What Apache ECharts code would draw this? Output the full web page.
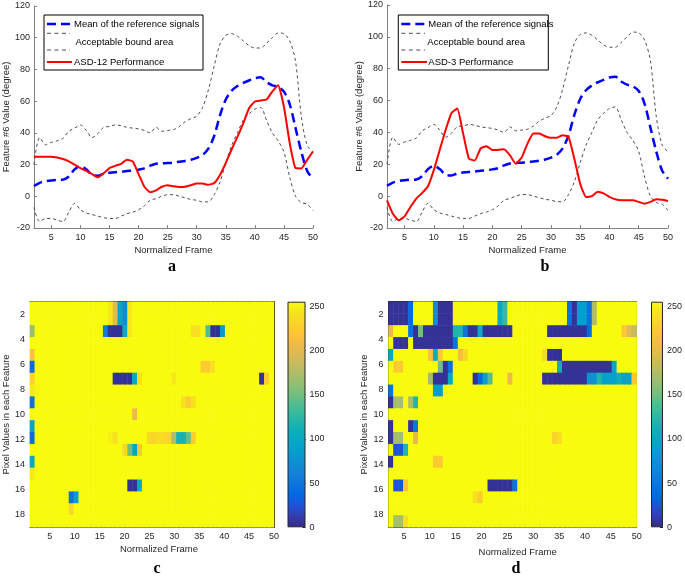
<!DOCTYPE html>
<html><head><meta charset="utf-8">
<script src="https://cdn.jsdelivr.net/npm/echarts@6/dist/echarts.min.js"></script>
<style>html,body{margin:0;padding:0;background:#fff;}#chart{width:685px;height:580px;}</style>
</head><body><div id="chart"></div>
<script>
// ---------- data: line charts (a, b) ----------
const frames = [2,3,4,5,6,7,8,9,10,11,12,13,14,15,16,17,18,19,20,21,22,23,24,25,26,27,28,29,30,31,32,33,34,35,36,37,38,39,40,41,42,43,44,45,46,47,48,49,50];
const meanRef = [6.5,8.5,9.5,10,10.3,10.5,12.5,17,19,17,13.5,13,14.2,14.8,15.2,15.5,15.9,16.3,16.8,17.6,19.3,20.5,20.8,21,21.3,21.8,22.3,23,24.2,26,30,38,51,61,66.5,69.5,71.5,73,74.5,75,72,70,69,66,58,43,28,16,11];
const upperBound = [20,37,32.5,34,35,36.5,41,43,45,41.5,37,39.5,43.5,44,45,44.5,43.5,43,42.5,41.5,40,43.5,41,41.5,42,44,47,49,50.5,56,67,82,96,101.5,102.5,101,98,95,93.5,93.5,96.5,100,103,102.5,98,85,50,32,28];
const lowerBound = [-7,-16,-14,-14,-15,-16,-10,-4.5,-8.5,-10.5,-11.5,-12.5,-13.5,-14,-14,-12.5,-11,-10,-8.5,-6,-2.5,-1.5,0,1,1,0,-1,-2,-2.5,-3.5,-3.5,1,9,21,32,40,48,52,55,56,48,40,35,28,12,0,-4,-5,-9];
const asd12 = [25,25,25,25,24.5,23.5,22,20,17.8,16,14,12,14.5,17.8,19.2,20.5,23,22,14,6,2.5,3.7,6,7,6.3,5.8,6,7,8,8,7.3,8.3,13.5,21,29.5,37.5,46,55.5,59.8,60.4,61,66,70,56.5,33.5,17.8,17.6,23,28.3];
const asd3 = [-2.6,-11,-15.2,-12.7,-6.8,-1.5,2,6.2,16.3,29,41.4,52,55,39.3,23.5,22.4,30,31.4,28.9,29,29.5,25.7,20.4,24.2,33,39.3,39.3,37.6,36.6,36.6,38.3,37.2,23.5,7.8,-0.5,0,2.7,1.7,-0.5,-2,-2.6,-2.6,-2.6,-3.6,-4.7,-3.6,-2,-2.3,-3];
const frameTicks = [5,10,15,20,25,30,35,40,45,50];
const rowTicks = [2,4,6,8,10,12,14,16,18];

// ---------- data: heatmaps (c, d) ----------
// background level of every cell not listed below (the yellow)
const backgroundLevel = 255;
const nCols = 50, nRows = 19;
// [column, row, value]
const cellsC = [
 [17,1,245],[18,1,200],[19,1,95],[20,1,70],[21,1,245],
 [17,2,245],[18,2,200],[19,2,95],[20,2,70],[21,2,245],
 [1,3,165],[16,3,55],[17,3,5],[18,3,5],[19,3,5],[20,3,100],[21,3,245],[34,3,240],[35,3,240],[37,3,140],[38,3,5],[39,3,5],[40,3,80],
 [1,5,215],
 [1,6,40],[36,6,225],[37,6,225],[38,6,240],
 [1,7,230],[18,7,5],[19,7,5],[20,7,5],[21,7,5],[22,7,100],[23,7,240],[30,7,245],[48,7,5],[49,7,225],
 [1,8,245],[2,8,250],
 [1,9,45],[32,9,240],[33,9,225],[34,9,240],
 [22,10,205],
 [1,11,95],
 [1,12,40],[17,12,250],[18,12,240],[25,12,235],[26,12,232],[27,12,238],[28,12,235],[29,12,232],[30,12,175],[31,12,115],[32,12,115],[33,12,145],[34,12,225],
 [20,13,235],[21,13,150],[22,13,95],[23,13,220],
 [1,14,100],
 [1,15,245],
 [21,16,5],[22,16,5],[23,16,100],
 [9,17,45],[10,17,85],
 [9,18,235]
];
const cellsD = [
 [1,1,5],[2,1,5],[3,1,5],[4,1,5],[5,1,40],[10,1,70],[11,1,5],[12,1,5],[13,1,5],[23,1,100],[24,1,130],[37,1,45],[38,1,5],[39,1,85],[40,1,85],[41,1,45],[42,1,175],
 [1,2,5],[2,2,5],[3,2,5],[4,2,5],[5,2,40],[10,2,70],[11,2,5],[12,2,5],[13,2,5],[23,2,100],[24,2,130],[37,2,45],[38,2,5],[39,2,85],[40,2,85],[41,2,45],[42,2,175],
 [1,3,205],[5,3,45],[6,3,5],[7,3,150],[8,3,5],[9,3,5],[10,3,5],[11,3,5],[12,3,5],[13,3,5],[14,3,120],[15,3,120],[16,3,50],[17,3,5],[18,3,5],[19,3,100],[20,3,5],[21,3,5],[22,3,5],[23,3,5],[24,3,5],[25,3,5],
 [33,3,5],[34,3,5],[35,3,5],[36,3,5],[37,3,5],[38,3,5],[39,3,5],[40,3,5],[41,3,40],[48,3,220],[49,3,200],[50,3,185],
 [2,4,5],[3,4,5],[4,4,5],[6,4,5],[7,4,5],[8,4,5],[9,4,5],[10,4,5],[11,4,5],[12,4,5],[13,4,5],[14,4,45],
 [1,5,100],[9,5,215],[10,5,110],[11,5,225],[15,5,210],[16,5,235],[32,5,235],[33,5,5],[34,5,5],[35,5,5],
 [2,6,225],[3,6,225],[11,6,150],[12,6,5],[13,6,45],[35,6,110],[36,6,5],[37,6,5],[38,6,5],[39,6,5],[40,6,5],[41,6,5],[42,6,5],[43,6,5],[44,6,5],[45,6,5],[46,6,90],
 [9,7,170],[10,7,5],[11,7,5],[12,7,5],[13,7,100],[18,7,5],[19,7,40],[20,7,90],[21,7,140],[25,7,205],
 [32,7,5],[33,7,5],[34,7,5],[35,7,5],[36,7,5],[37,7,5],[38,7,5],[39,7,5],[40,7,5],[41,7,75],[42,7,75],[43,7,120],[44,7,90],[45,7,90],[46,7,90],[47,7,110],[48,7,90],[49,7,90],[50,7,220],
 [1,8,45],[10,8,85],[11,8,85],
 [1,9,5],[2,9,170],[3,9,170],[5,9,170],[6,9,120],
 [1,11,5],[5,11,5],[6,11,50],
 [1,12,5],[2,12,170],[3,12,170],[6,12,200],[34,12,230],[35,12,240],
 [2,13,25],[3,13,25],[4,13,120],
 [1,14,5],[10,14,225],[11,14,225],
 [2,16,25],[3,16,25],[4,16,220],[21,16,5],[22,16,5],[23,16,5],[24,16,5],[25,16,5],[26,16,45],
 [18,17,240],[19,17,225],
 [2,19,170],[3,19,170],[4,19,240]
];

// ---------- build ----------
const FONT = '"Liberation Sans", Arial, sans-serif';
const TXT = '#262626';
const parula = ['#352A87','#353DAD','#2053D4','#0268E1','#0D75DC','#1481D6','#108ED2','#079CCF','#06A7C6','#0FAEB9','#25B5A9','#42BB98','#65BE86','#87BF77','#A5BE6B','#C0BC60','#D9BA56','#F1B94A','#FFC337','#FAD32A','#F5E41D','#F9FB0E'];

function pairs(vals){ return frames.map((f,i)=>[f, vals[i]]); }
function gridData(cells){
  const m = {};
  cells.forEach(c => { m[c[0]+'_'+c[1]] = c[2]; });
  const out = [];
  for (let r = 1; r <= nRows; r++) for (let c = 1; c <= nCols; c++) {
    const k = c+'_'+r;
    out.push([c-1, r-1, (k in m) ? m[k] : backgroundLevel]);
  }
  return out;
}
const colCats = [], rowCats = [];
for (let c = 1; c <= nCols; c++) colCats.push(String(c));
for (let r = 1; r <= nRows; r++) rowCats.push(String(r));

const lineAxisColor = '#808080';
function lineX(gi){
  return {gridIndex:gi,type:'value',min:2,max:50,name:'Normalized Frame',nameLocation:'middle',nameGap:17,
    nameTextStyle:{fontSize:9.5,color:TXT,fontFamily:FONT},
    axisLine:{show:true,onZero:false,lineStyle:{color:lineAxisColor}},
    axisTick:{show:true,inside:true,length:3,customValues:frameTicks,lineStyle:{color:lineAxisColor}},
    axisLabel:{customValues:frameTicks,fontSize:9,color:TXT,fontFamily:FONT,margin:5},
    splitLine:{show:false}};
}
function lineY(gi, gap){
  return {gridIndex:gi,type:'value',min:-20,max:120,interval:20,name:'Feature #6 Value (degree)',nameLocation:'middle',nameGap:gap,
    nameTextStyle:{fontSize:9.5,color:TXT,fontFamily:FONT},
    axisLine:{show:true,onZero:false,lineStyle:{color:lineAxisColor}},
    axisTick:{show:true,inside:true,length:3,lineStyle:{color:lineAxisColor}},
    axisLabel:{fontSize:9,color:TXT,fontFamily:FONT,margin:4},
    splitLine:{show:false}};
}
const boxColor = '#262626';
function heatXVal(gi, min, pos, withLabel, pad){
  const a = {gridIndex:gi,type:'value',min:min,max:50,position:pos,
    axisLine:{show:true,onZero:false,lineStyle:{color:boxColor}},
    axisTick:{show:true,inside:true,length:3,customValues:frameTicks,lineStyle:{color:boxColor}},
    axisLabel:{show:withLabel,customValues:frameTicks,fontSize:9,color:TXT,fontFamily:FONT,margin:5},
    splitLine:{show:false}};
  if (withLabel){ a.name='Normalized Frame'; a.nameLocation='middle'; a.nameGap=pad[1];
    a.nameTextStyle={fontSize:9.5,color:TXT,fontFamily:FONT,padding:[0,0,0,pad[0]]}; }
  return a;
}
function heatYVal(gi, pos, withLabel, gap){
  const a = {gridIndex:gi,type:'value',min:1,max:19,inverse:true,position:pos,
    axisLine:{show:true,onZero:false,lineStyle:{color:boxColor}},
    axisTick:{show:true,inside:true,length:3,customValues:rowTicks,lineStyle:{color:boxColor}},
    axisLabel:{show:withLabel,customValues:rowTicks,fontSize:9,color:TXT,fontFamily:FONT,margin:5},
    splitLine:{show:false}};
  if (withLabel){ a.name='Pixel Values in each Feature'; a.nameLocation='middle'; a.nameGap=gap;
    a.nameTextStyle={fontSize:9.5,color:TXT,fontFamily:FONT}; }
  return a;
}
function catX(gi, data){ return {gridIndex:gi,type:'category',data:data,show:false,boundaryGap:true}; }
function catY(gi, data, inv){ return {gridIndex:gi,type:'category',data:data,show:false,boundaryGap:true,inverse:!!inv}; }
function cbY(gi){
  return {gridIndex:gi,type:'value',min:0,max:255,interval:50,position:'right',
    axisLine:{show:false},
    axisTick:{show:true,inside:true,length:3,lineStyle:{color:boxColor}},
    axisLabel:{fontSize:9,color:TXT,fontFamily:FONT,margin:4},
    splitLine:{show:false}};
}
function lineSeries(xi, vals, kind){
  const st = {
    mean:{color:'#0000FF',width:2.5,type:[9,5]},
    bound:{color:'#4d4d4d',width:1,type:[3,3]},
    perf:{color:'#FF0000',width:2,type:'solid'}
  }[kind];
  return {type:'line',xAxisIndex:xi,yAxisIndex:xi,data:pairs(vals),showSymbol:false,silent:true,
    smooth: kind==='perf'?0.15:0.3, lineStyle:st, z: kind==='perf'?5:(kind==='mean'?4:3)};
}
const cbGradient = new echarts.graphic.LinearGradient(0,1,0,0, parula.map((c,i)=>({offset:i/(parula.length-1),color:c})));
function cbSeries(xi, yi){
  return {type:'bar',xAxisIndex:xi,yAxisIndex:yi,data:[255],barWidth:'100%',silent:true,
    itemStyle:{color:cbGradient,borderColor:boxColor,borderWidth:1}};
}

function legend(x, y, w, h, lx1, tx, tx2, perfLabel){
  const ys = [y+9, y+18.3, y+35, y+47];
  const tf = '9.5px ' + FONT;
  return [
    {type:'rect',shape:{x:x,y:y,width:w,height:h},style:{fill:'#fff',stroke:'#000',lineWidth:1},z:50},
    {type:'line',shape:{x1:x+3,y1:ys[0],x2:lx1,y2:ys[0]},style:{stroke:'#0000FF',lineWidth:2.5,lineDash:[9,5]},z:51},
    {type:'line',shape:{x1:x+3,y1:ys[1],x2:lx1-2,y2:ys[1]},style:{stroke:'#4d4d4d',lineWidth:1,lineDash:[4,3.5]},z:51},
    {type:'line',shape:{x1:x+3,y1:ys[2],x2:lx1-2,y2:ys[2]},style:{stroke:'#4d4d4d',lineWidth:1,lineDash:[4,3.5]},z:51},
    {type:'line',shape:{x1:x+3,y1:ys[3],x2:lx1,y2:ys[3]},style:{stroke:'#FF0000',lineWidth:2},z:51},
    {type:'text',style:{text:'Mean of the reference signals',x:tx,y:ys[0],font:tf,fill:'#000',textVerticalAlign:'middle'},z:52},
    {type:'text',style:{text:'Acceptable bound area',x:tx2,y:y+27.7,font:tf,fill:'#000',textVerticalAlign:'middle'},z:52},
    {type:'text',style:{text:perfLabel,x:tx,y:ys[3],font:tf,fill:'#000',textVerticalAlign:'middle'},z:52}
  ];
}
function letter(t, x, y){
  return {type:'text',style:{text:t,x:x,y:y,font:'bold 16px "Liberation Serif", "Times New Roman", serif',fill:'#000',textAlign:'center',textVerticalAlign:'middle'},z:60};
}

const option = {
  animation:false,
  backgroundColor:'#ffffff',
  grid:[
    {left:32,top:6,width:281,height:222},
    {left:387,top:5,width:281,height:223},
    {left:25.5,top:301.7,width:248.5,height:225.6},
    {left:287.5,top:301.7,width:18,height:225.6},
    {left:388.5,top:301.7,width:248.2,height:225.6},
    {left:651,top:301.7,width:18,height:225.6}
  ],
  xAxis:[
    lineX(0), lineX(1),
    catX(2,colCats), heatXVal(2,1,'bottom',true,[14,17]), heatXVal(2,1,'top',false),
    catX(3,['cb']),
    catX(4,colCats), heatXVal(4,2,'bottom',true,[10,20]), heatXVal(4,2,'top',false),
    catX(5,['cb'])
  ],
  yAxis:[
    lineY(0,21), lineY(1,23),
    catY(2,rowCats,true), heatYVal(2,'left',true,16), heatYVal(2,'right',false),
    cbY(3),
    catY(4,rowCats,true), heatYVal(4,'left',true,15), heatYVal(4,'right',false),
    cbY(5)
  ],
  visualMap:[{type:'continuous',show:false,min:0,max:255,seriesIndex:[8,10],inRange:{color:parula}}],
  series:[
    lineSeries(0,upperBound,'bound'), lineSeries(0,lowerBound,'bound'), lineSeries(0,meanRef,'mean'), lineSeries(0,asd12,'perf'),
    lineSeries(1,upperBound,'bound'), lineSeries(1,lowerBound,'bound'), lineSeries(1,meanRef,'mean'), lineSeries(1,asd3,'perf'),
    {type:'heatmap',xAxisIndex:2,yAxisIndex:2,data:gridData(cellsC),silent:true,emphasis:{disabled:true}},
    cbSeries(5,5),
    {type:'heatmap',xAxisIndex:6,yAxisIndex:6,data:gridData(cellsD),silent:true,emphasis:{disabled:true}},
    cbSeries(9,9)
  ],
  graphic:[].concat(
    legend(44,15,159,55,72,74,75.5,'ASD-12 Performance'),
    legend(398.3,15,150,55,427,428.3,427.3,'ASD-3 Performance'),
    [letter('a',172,267), letter('b',545,267), letter('c',157,569), letter('d',516,569)]
  )
};
const chart = echarts.init(document.getElementById('chart'), null, {renderer:'canvas'});
chart.setOption(option);
</script></body></html>
